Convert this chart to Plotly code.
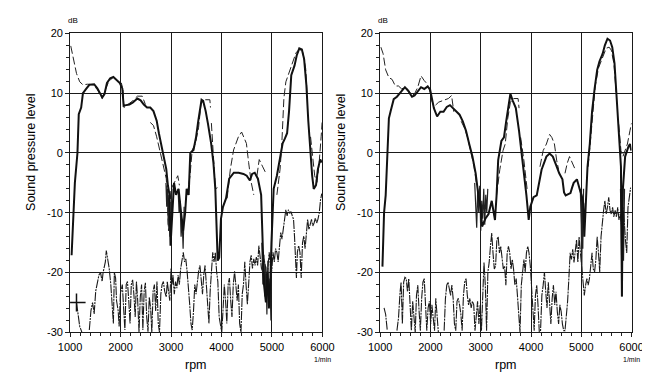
import plotly.graph_objects as go

# ---------------- data: left panel (A) ----------------
main_rpm_A = [1030, 1060, 1095, 1146, 1172, 1220, 1255, 1318, 1382, 1477, 1540, 1637, 1680, 1731, 1795, 1858, 1921,
              1953, 1985, 2035, 2061, 2112, 2175, 2239, 2334, 2398, 2461, 2525, 2589, 2652, 2716, 2760, 2811, 2862,
              2906, 2938, 2970, 2990, 3030, 3060, 3100, 3150, 3200, 3240, 3280, 3310, 3350, 3382, 3446, 3497, 3541,
              3573, 3605, 3637, 3687, 3732, 3795, 3840, 3878, 3925, 3955, 3990, 4030, 4090, 4153, 4245, 4340, 4436,
              4500, 4563, 4608, 4659, 4722, 4786, 4843, 4880, 4910, 4940, 4970, 4990, 5034, 5098, 5161, 5212, 5256,
              5300, 5339, 5383, 5447, 5491, 5542, 5593, 5638, 5682, 5720, 5765, 5797, 5828, 5873, 5911, 5956, 5987]
main_db_A = [-17.1, -11.0, -5.0, 0.0, 6.5, 7.6, 10.0, 10.7, 11.4, 11.5, 10.8, 9.3, 9.8, 11.7, 12.5, 12.7, 12.2,
             11.9, 11.7, 10.8, 7.9, 8.0, 8.1, 8.4, 9.1, 8.8, 8.1, 7.6, 7.6, 7.0, 5.4, 3.3, 1.1, -1.1,
             -2.7, -5.4, -7.0, -15.5, -8.0, -5.0, -7.0, -6.0, -10.0, -13.0, -10.0, -6.0, -7.0, 0.0, 0.5, 2.7, 5.4,
             7.6, 8.9, 8.7, 7.0, 4.9, 1.6, -1.6, -6.0, -18.0, -17.5, -11.0, -9.0, -7.6, -4.3, -3.3, -3.3, -3.5,
             -3.8, -4.6, -3.5, -3.3, -4.3, -7.0, -22.0, -25.0, -20.0, -26.0, -21.0, -15.0, -6.0, -3.8, -0.5, 1.6, 2.4,
             3.3, 7.0, 13.0, 14.6, 16.3, 17.5, 17.3, 15.7, 11.4, 5.4, -1.1, -3.8, -6.0, -5.4, -2.7, -1.1, -1.6]

dash_rpm_A = [1013, 1064, 1127, 1191, 1255, 1350, 1446, 1541, 1637, 1700, 1764, 1858, 1953, 2016, 2048, 2067,
              2143, 2239, 2334, 2430, 2493, None,
              2589, 2652, 2716, 2780, 2843, 2906, 2930, 2950, 2970, 3000, 3070, 3134, 3166, None,
              3325, 3376, 3420, 3484, 3547, 3592, 3643, 3706, 3770, 3782, None,
              3800, 3850, 3880, 3920, None,
              4112, 4176, 4240, 4284, 4335, 4399, 4443, 4494, 4538, 4589, 4640, None,
              4703, 4748, 4811, 4875, None,
              5098, 5161, 5193, 5237, 5276, 5320, 5365, 5415, 5479, 5542, 5606, 5669, 5701, None,
              5765, 5809, 5847, 5892, 5936, 5975, 5994]
dash_db_A = [17.9, 15.7, 13.3, 11.9, 11.4, 11.5, 11.4, 10.6, 9.1, 10.6, 11.9, 12.7, 11.9, 11.7, 10.6, 7.6,
             8.1, 8.7, 9.5, 9.5, 8.1, None,
             5.1, 4.6, 2.7, 0.5, -1.9, -4.3, -8.0, -13.0, -10.0, -6.0, -4.9, -3.8, -5.4, None,
             -7.0, -3.8, 0.5, 1.6, 4.3, 8.1, 8.9, 8.9, 8.9, 7.6, None,
             5.0, -2.0, -6.0, -5.8, None,
             -7.6, -2.7, 0.5, 1.6, 2.7, 3.5, 2.7, 1.6, -1.6, -4.9, -7.0, None,
             -3.8, -1.1, -2.2, -3.3, None,
             -7.0, -2.7, 1.1, 9.2, 11.9, 13.0, 14.1, 15.2, 16.8, 17.3, 17.1, 14.1, 9.2, None,
             2.7, -0.5, -3.8, -4.9, -1.6, 2.7, 5.1]

noise_rpm_A = [1127, 1159, 1191, 1235, None,
               1381, 1413, 1445, 1477, 1508, 1540, 1572, 1604, 1635, 1654, 1680, 1699, 1718, 1743, 1775, 1807,
               1826, 1858, 1877, 1902, 1921, 1953, 1972, 1997, 2035, 2061, 2086, 2112, 2137, 2163, 2188, 2213,
               2239, 2264, 2290, 2315, 2340, 2366, 2391, 2417, 2442, 2468, 2493, 2518, 2544, 2569, 2595, 2620,
               2645, 2671, 2696, 2722, 2747, 2772, 2798, 2823, 2849, 2874, 2906, 2925, 2950, 2976, 3001, 3020,
               3039, 3065, 3090, 3116, 3141, 3166, 3192, 3217, 3243, 3268, 3293, 3319, 3344, 3370, 3395, 3420,
               3446, 3471, 3496, 3522, 3547, 3573, 3598, 3624, 3649, 3675, 3700, 3725, 3751, 3776, 3802, 3827,
               3852, 3878, 3903, 3928, 3954, 3980, 4005, 4030, 4056, 4081, 4106, 4132, 4157, 4183, 4208, 4234,
               4259, 4284, 4310, 4335, 4360, 4386, 4411, 4436, 4462, 4487, 4513, 4538, 4564, 4589, 4614, 4640,
               4665, 4691, 4716, 4741, 4767, 4792, 4818, 4843, 4869, 4894, 4920, 4945, 4970, 4996, 5021, 5047,
               5072, 5098, 5123, 5148, 5174, 5199, 5225, 5250, 5275, 5301, 5326, 5352, 5377, 5403, 5428, 5447,
               5466, 5485, 5504, 5529, 5555, 5580, 5606, 5631, 5657, 5682, 5707, 5733, 5758, 5784, 5809, 5835,
               5860, 5886, 5911, 5936, 5962, 5987]
noise_db_A = [-25.0, -27.4, -29.0, -30.0, None,
              -29.6, -26.4, -25.0, -26.9, -23.1, -22.0, -20.4, -20.0, -21.5, -20.0, -19.0, -18.2, -16.3, -17.4,
              -19.3, -22.0, -24.7, -28.5, -20.0, -20.9, -24.7, -26.4, -29.0, -23.6, -22.0, -26.4, -29.6, -22.0,
              -21.5, -24.7, -28.5, -22.0, -21.2, -23.6, -27.4, -21.5, -24.7, -30.0, -24.1, -22.0, -29.6, -23.1,
              -21.7, -27.4, -29.9, -24.1, -25.8, -30.0, -23.1, -22.0, -26.4, -21.5, -28.5, -30.0, -23.6, -22.0,
              -21.5, -23.1, -24.1, -21.5, -23.1, -24.7, -19.3, -22.0, -20.4, -23.6, -21.5, -22.6, -20.4, -22.0,
              -19.3, -18.2, -16.6, -18.2, -17.7, -19.8, -22.0, -25.3, -28.5, -29.6, -26.4, -22.0, -23.6, -20.9,
              -19.8, -18.8, -22.0, -23.6, -20.4, -18.8, -22.0, -25.3, -28.5, -23.1, -19.3, -16.6, -18.2, -16.6,
              -19.8, -21.5, -27.4, -29.0, -30.0, -26.4, -22.0, -24.7, -28.5, -22.0, -20.9, -24.7, -27.4, -22.0,
              -19.8, -22.0, -24.7, -22.0, -28.5, -30.0, -23.6, -22.0, -18.2, -22.0, -25.3, -22.0, -18.2, -17.1,
              -19.3, -17.7, -18.8, -17.4, -18.8, -15.5, -17.7, -19.3, -19.8, -17.7, -18.8, -20.9, -19.3, -16.6,
              -18.8, -19.8, -16.6, -18.2, -16.0, -16.6, -18.2, -15.5, -13.3, -14.4, -12.8, -11.1, -9.5, -10.5,
              -9.5, -10.1, -9.8, -10.5, -11.1, -13.9, -19.3, -20.9, -16.6, -15.5, -16.6, -20.9, -15.0, -13.9,
              -16.0, -12.8, -11.1, -12.8, -11.7, -11.1, -12.2, -11.7, -10.9, -11.7, -11.1, -10.1, -7.9, -6.8]

thin_rpm_A = [2900, 2915, 2930, 2945, 2960, 2980, 3000, 3015, None,
              3140, 3160, 3180, 3200, 3220, 3240, 3260, None,
              4800, 4820, 4840, 4860, 4880, 4900, 4920, 4940, 4960, 4980, 5000]
thin_db_A = [-5.0, -9.0, -6.0, -12.0, -7.0, -14.0, -10.0, -6.0, None,
             -6.0, -10.0, -8.0, -14.0, -11.0, -16.0, -9.0, None,
             -15.0, -22.0, -17.0, -24.0, -19.0, -27.0, -18.0, -25.0, -21.0, -28.0, -10.0]

# ---------------- data: right panel (B) ----------------
main_rpm_B = [1045, 1077, 1109, 1141, 1173, 1205, 1269, 1333, 1428, 1492, 1556, 1633, 1684, 1748, 1812, 1876,
              1940, 1991, 2036, 2068, 2132, 2196, 2260, 2324, 2388, 2451, 2515, 2579, 2643, 2707, 2771, 2835,
              2899, 2931, 2963, 3000, 3027, 3091, 3155, 3219, 3283, 3315, 3347, 3411, 3462, 3506, 3551, 3590,
              3634, 3698, 3762, 3826, 3871, 3909, 3954, 3986, 4050, 4114, 4210, 4306, 4370, 4434, 4498, 4561,
              4625, 4657, 4689, 4721, 4785, 4817, 4849, 4913, 4945, 4977, 5009, 5041, 5060, 5086, 5124, 5169,
              5214, 5265, 5316, 5361, 5425, 5469, 5521, 5572, 5616, 5661, 5712, 5763, 5789, 5808, 5828, 5872,
              5904, 5936, 5968, 5994]
main_db_B = [-19.0, -10.0, -7.1, 0.0, 5.8, 6.9, 9.0, 9.4, 10.4, 11.0, 10.4, 9.4, 9.6, 10.4, 11.0, 10.7,
             11.1, 10.7, 8.8, 7.5, 6.1, 6.9, 6.9, 7.7, 8.0, 7.5, 6.9, 6.4, 5.3, 3.7, 1.5, -0.6,
             -3.4, -6.0, -7.7, -9.0, -12.3, -11.0, -10.2, -8.0, -11.2, -7.1, -1.2, 2.0, 2.6, 5.3, 7.5, 9.9,
             8.8, 7.5, 3.7, -0.6, -3.9, -7.1, -11.2, -9.0, -7.4, -7.1, -2.8, -0.6, -0.1, -0.6, -2.0, -3.4,
             -4.4, -6.6, -7.1, -7.0, -6.7, -5.8, -5.0, -4.4, -5.5, -6.3, -7.1, -8.5, -14.0, -9.6, -2.3, 1.5,
             6.9, 10.7, 13.9, 15.3, 16.6, 18.0, 19.1, 18.8, 17.7, 15.0, 8.5, 1.5, -2.3, -24.0, -6.0, -0.6,
             0.4, 1.0, 1.5, 0.4]

dash_rpm_B = [1013, 1058, 1109, 1173, 1237, 1301, 1364, 1428, 1492, 1556, 1633, 1684, 1748, 1812, 1876, 1940,
              1991, 2036, 2100, 2164, 2260, 2356, 2420, 2464, None,
              2611, 2675, 2739, 2803, 2867, 2912, None,
              3315, 3379, 3443, 3487, 3538, 3590, 3654, 3743, 3762, None,
              3794, 3858, 3922, 3954, None,
              4178, 4242, 4306, 4370, 4414, 4466, 4510, 4549, None,
              4676, 4721, 4766, 4817, 4881, None,
              5137, 5188, 5233, 5278, 5342, 5393, 5457, 5495, 5553, 5597, 5648, 5693, None,
              5744, 5789, 5828, 5872, 5917, 5968, 6000]
dash_db_B = [17.7, 16.6, 13.9, 12.6, 12.3, 11.2, 11.2, 10.7, 11.0, 10.6, 9.6, 9.9, 11.0, 12.9, 12.1, 11.5,
             10.2, 8.5, 8.0, 8.5, 8.8, 9.1, 9.6, 6.9, None,
             5.3, 4.2, 2.6, 0.4, -2.3, -5.0, None,
             -7.1, -2.8, 0.4, 1.5, 5.8, 8.5, 9.1, 9.1, 7.5, None,
             2.6, -1.2, -6.0, -6.3, None,
             -2.3, 0.4, 1.5, 3.1, 2.6, 1.5, -1.2, -2.8, None,
             -3.4, -1.7, -0.6, -1.7, -2.8, None,
             -2.3, 2.6, 7.5, 11.2, 14.2, 15.3, 16.6, 17.5, 17.7, 17.2, 15.0, 10.2, None,
             4.8, 0.4, -0.6, 0.4, 1.5, 3.7, 5.0]

noise_rpm_B = [1077, 1109, 1141, None,
               1333, 1364, 1396, 1416, 1441, 1467, 1492, 1518, 1543, 1569, 1595, 1620, 1646, 1671, 1697, 1722,
               1748, 1774, 1799, 1825, 1850, 1876, 1902, 1927, 1953, 1978, 2004, 2029, 2055, 2081, 2106, 2132,
               2157, None,
               2272, 2298, 2324, 2349, 2375, 2400, 2426, 2451, 2477, 2503, 2528, 2554, 2579, 2605, 2630, 2656,
               2681, 2707, 2733, 2758, 2784, 2810, 2835, 2861, 2886, 2912, 2937, 2963, 2989, 3014, 3040, 3065,
               3091, 3116, 3142, 3168, 3193, 3219, 3244, 3270, 3295, 3321, 3347, 3372, 3398, 3423, 3449, 3475,
               3500, 3526, 3551, 3577, 3602, 3628, 3653, 3679, 3705, 3730, 3756, 3781, 3807, 3832, 3858, 3884,
               3909, 3935, 3960, 3986, 4011, 4037, 4063, 4088, 4114, 4139, 4165, 4190, 4216, 4242, 4267, 4293,
               4318, 4344, 4370, 4395, 4421, 4446, 4472, 4497, 4523, 4549, 4574, 4600, 4625, 4651, 4676, 4702,
               4728, 4753, 4779, 4804, 4830, 4855, 4881, 4906, 4932, 4957, 4983, 5009, 5034, 5060, 5086, 5111,
               5137, 5162, 5188, 5214, 5239, 5265, 5290, 5316, 5342, 5367, 5393, 5418, 5444, 5469, 5495, 5521,
               5546, 5572, 5597, 5623, 5648, 5674, 5699, 5725, 5750, 5776, 5801, 5827, 5853, 5878, 5904, 5929,
               5955, 5981]
noise_db_B = [-25.9, -27.0, -29.7, None,
              -29.7, -27.6, -23.2, -21.6, -28.6, -21.6, -20.8, -21.0, -23.2, -21.0, -25.4, -29.7, -24.8, -27.6,
              -30.0, -23.8, -22.1, -26.5, -29.7, -24.3, -21.6, -21.0, -26.5, -29.7, -25.9, -24.8, -28.6, -25.4,
              -27.6, -29.7, -24.3, -27.0, -30.0, None,
              -29.7, -24.3, -22.1, -21.6, -22.7, -23.8, -22.1, -24.3, -28.6, -29.7, -24.8, -24.3, -25.4, -27.0,
              -29.7, -23.8, -21.6, -21.0, -23.8, -25.4, -24.3, -25.9, -24.8, -25.4, -29.7, -27.6, -24.8, -28.6,
              -25.4, -29.7, -22.1, -18.3, -22.1, -29.7, -19.9, -18.3, -15.6, -13.4, -16.7, -19.4, -18.9, -14.5,
              -14.0, -16.7, -15.6, -17.8, -19.4, -18.9, -22.1, -16.7, -15.6, -16.7, -19.4, -17.8, -19.4, -22.1,
              -21.0, -23.8, -27.6, -30.0, -22.1, -19.4, -17.8, -19.9, -16.7, -15.6, -16.7, -18.9, -22.1, -26.5,
              -29.7, -23.8, -22.1, -25.4, -30.0, -29.7, -23.8, -22.1, -19.9, -23.2, -25.9, -21.6, -24.8, -28.6,
              -24.3, -22.1, -25.4, -23.2, -26.5, -28.6, -25.4, -26.5, -28.6, -29.7, -29.7, -27.6, -24.8, -21.0,
              -16.7, -17.8, -16.1, -18.3, -15.6, -14.5, -18.3, -14.0, -16.7, -19.4, -22.1, -23.8, -22.1, -21.0,
              -22.1, -21.0, -18.9, -16.7, -19.4, -19.9, -17.8, -14.0, -16.7, -19.9, -14.0, -11.2, -9.6, -8.0,
              -10.2, -9.1, -7.4, -9.6, -10.2, -9.1, -10.7, -9.6, -10.7, -9.1, -11.2, -10.2, -12.3, -9.1, -11.2,
              -14.5, -16.7, -9.1, -7.4, -5.8]

thin_rpm_B = [2880, 2900, 2920, 2940, 2960, 2980, 3000, 3020, 3040, 3060, 3080, 3100, 3120, 3140, None,
              4980, 5000, 5010, 5020, 5030, 5045, None,
              5780, 5795, 5810, 5825, 5840, 5860]
thin_db_B = [-5.0, -8.0, -12.5, -6.0, -10.0, -5.5, -13.0, -8.0, -11.0, -6.0, -12.0, -7.0, -10.0, -6.0, None,
             -6.0, -12.0, -20.0, -8.0, -16.0, -6.0, None,
             -6.0, -12.0, -24.0, -10.0, -18.0, -6.0]

marker_rpm_A = [1127]
marker_db_A = [-25.0]

x_ticks = [1000, 2000, 3000, 4000, 5000, 6000]
x_labels = ["1000", "2000", "3000", "4000", "5000", "6000"]
y_ticks = [-30, -20, -10, 0, 10, 20]
y_labels = ["-30", "-20", "-10", "0", "10", "20"]

# ---------------- figure ----------------
W, H = 650, 373
fig = go.Figure()

dash_style = "8px,3px"
noise_style = "9px,1px,2px,1px"

panels = [
    ("x", "y", main_rpm_A, main_db_A, dash_rpm_A, dash_db_A, noise_rpm_A, noise_db_A, thin_rpm_A, thin_db_A),
    ("x2", "y2", main_rpm_B, main_db_B, dash_rpm_B, dash_db_B, noise_rpm_B, noise_db_B, thin_rpm_B, thin_db_B),
]
for xa, ya, mr, md, dr, dd, nr, nd, tr, td in panels:
    fig.add_trace(go.Scatter(x=nr, y=nd, xaxis=xa, yaxis=ya, mode="lines", connectgaps=False,
                             line=dict(color="#1a1a1a", width=1.1, dash=noise_style), hoverinfo="skip"))
    fig.add_trace(go.Scatter(x=tr, y=td, xaxis=xa, yaxis=ya, mode="lines", connectgaps=False,
                             line=dict(color="#222", width=1.2), hoverinfo="skip"))
    fig.add_trace(go.Scatter(x=dr, y=dd, xaxis=xa, yaxis=ya, mode="lines", connectgaps=False,
                             line=dict(color="#222", width=1, dash=dash_style), hoverinfo="skip"))
    fig.add_trace(go.Scatter(x=mr, y=md, xaxis=xa, yaxis=ya, mode="lines",
                             line=dict(color="#111", width=2), hoverinfo="skip"))

fig.add_trace(go.Scatter(x=marker_rpm_A, y=marker_db_A, xaxis="x", yaxis="y", mode="markers",
                         marker=dict(symbol="cross-thin", size=13, line=dict(color="#111", width=1.5)),
                         hoverinfo="skip"))

font = "Liberation Sans, Arial, sans-serif"
x_domains = [[52 / W, 314 / W], [374 / W, 635 / W]]
y_domain = [1 - 329 / H, 1 - 20 / H]

common_x = dict(range=[1000, 6000], tickvals=x_ticks, ticktext=x_labels, showgrid=True,
                gridcolor="#1a1a1a", gridwidth=1, showline=True, linecolor="#1a1a1a", linewidth=1, mirror=True,
                ticks="outside", ticklen=4, tickcolor="#222", zeroline=False,
                minor=dict(dtick=200, ticks="outside", ticklen=3, tickcolor="#222", showgrid=False),
                tickfont=dict(family=font, size=11, color="#000"))
common_y = dict(range=[-30, 20], tickvals=y_ticks, ticktext=y_labels, showgrid=True,
                gridcolor="#1a1a1a", gridwidth=1, showline=True, linecolor="#1a1a1a", linewidth=1, mirror=True,
                ticks="outside", ticklen=4, tickcolor="#222", zeroline=False,
                minor=dict(dtick=2, ticks="outside", ticklen=3, tickcolor="#222", showgrid=False),
                tickfont=dict(family=font, size=11, color="#000"))

fig.update_layout(
    width=W, height=H, margin=dict(l=0, r=0, t=0, b=0),
    paper_bgcolor="white", plot_bgcolor="white", showlegend=False,
    xaxis=dict(domain=x_domains[0], anchor="y", **common_x),
    yaxis=dict(domain=y_domain, anchor="x", **common_y),
    xaxis2=dict(domain=x_domains[1], anchor="y2", **common_x),
    yaxis2=dict(domain=y_domain, anchor="x2", **common_y),
)

annotations = []
for i, (x0, x1) in enumerate(x_domains):
    annotations.append(dict(text="dB", x=x0 - 4 / W, y=1 - 7 / H, xref="paper", yref="paper",
                            showarrow=False, xanchor="left", yanchor="middle",
                            font=dict(family=font, size=8, color="#000")))
    annotations.append(dict(text="Sound pressure level", x=x0 - 40 / W, y=1 - 143 / H,
                            xref="paper", yref="paper", textangle=-90, showarrow=False,
                            xanchor="center", yanchor="middle",
                            font=dict(family=font, size=12.5, color="#000")))
    annotations.append(dict(text="rpm", x=(x0 + x1) / 2, y=1 - 363 / H, xref="paper", yref="paper",
                            showarrow=False, xanchor="center", yanchor="middle",
                            font=dict(family=font, size=12.5, color="#000")))
    annotations.append(dict(text="1/min", x=x1, y=1 - 357 / H, xref="paper", yref="paper",
                            showarrow=False, xanchor="center", yanchor="middle",
                            font=dict(family=font, size=7, color="#000")))
fig.update_layout(annotations=annotations)

fig.write_html("out.html")
